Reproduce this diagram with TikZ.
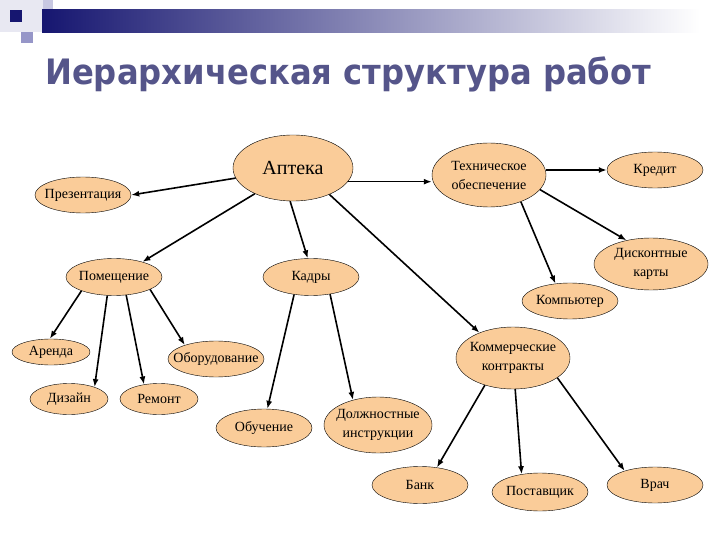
\documentclass[tikz,border=0pt]{standalone}
\usepackage{fontspec}
\setmainfont{Liberation Serif}
\newfontfamily\titlefont{DejaVu Sans}
\usepackage{tikz}
\usetikzlibrary{arrows.meta,shapes.geometric}
\definecolor{peach}{RGB}{250,204,153}
\definecolor{navyband}{RGB}{22,22,112}
\definecolor{titleblue}{RGB}{85,85,138}

\begin{document}
\begin{tikzpicture}[x=1pt, y=-1pt,
    leaf/.style={ellipse, draw, fill=peach, inner xsep=-12pt, inner ysep=0pt,
      align=center, font=\fontsize{14}{19}\selectfont},
    link/.style={line width=1.6pt, -{Latex[length=8pt,width=6pt]}}]
      \useasboundingbox (0,0) rectangle (720,540);
      % header decoration
      \fill[white] (0,0) rectangle (720,540);
      \fill[fill={rgb,255:red,232;green,232;blue,242}] (0,0) rectangle (43,32);
      \fill[fill={rgb,255:red,200;green,200;blue,226}] (43,0) rectangle (53,20);
      \fill[fill={rgb,255:red,150;green,150;blue,200}] (21,32) rectangle (33,43);
      \fill[navyband] (10,10) rectangle (22,22);
      \shade[left color=navyband, right color=white] (42,10) rectangle (700,33);
      \node[anchor=base west, text=titleblue, inner sep=0pt] (title) at (45,85)
        {\titlefont\bfseries\fontsize{35}{40}\selectfont
         \scalebox{0.92}[1]{Иерархическая структура работ}};
      % level 1
      \node[leaf, minimum width=120, minimum height=66, font=\fontsize{20}{22}\selectfont]
        (apt) at (293,168) {Аптека};
      \node[leaf, minimum width=96, minimum height=36] (prez) at (83,195) {Презентация};
      \node[leaf, minimum width=96, minimum height=37] (pom) at (114,277) {Помещение};
      \node[leaf, minimum width=96, minimum height=37] (kadr) at (311,277) {Кадры};
      \node[leaf, minimum width=114, minimum height=64] (tech) at (489,175) {Техническое\\обеспечение};
      \node[leaf, minimum width=114, minimum height=62] (komm) at (513,358) {Коммерческие\\контракты};
      % level 2
      \node[leaf, minimum width=96, minimum height=36] (kred) at (655,170) {Кредит};
      \node[leaf, minimum width=114, minimum height=52] (disk) at (651,264) {Дисконтные\\карты};
      \node[leaf, minimum width=96, minimum height=36] (comp) at (570,301) {Компьютер};
      \node[leaf, minimum width=78, minimum height=26] (arenda) at (51,352) {Аренда};
      \node[leaf, minimum width=78, minimum height=31] (dizajn) at (69,399) {Дизайн};
      \node[leaf, minimum width=78, minimum height=31] (remont) at (159,399) {Ремонт};
      \node[leaf, minimum width=96, minimum height=36] (obor) at (216,359) {Оборудование};
      \node[leaf, minimum width=96, minimum height=38] (obuch) at (264,428) {Обучение};
      \node[leaf, minimum width=108, minimum height=56] (dolzh) at (378,425) {Должностные\\инструкции};
      \node[leaf, minimum width=96, minimum height=37] (bank) at (420,485) {Банк};
      \node[leaf, minimum width=96, minimum height=38] (post) at (540,492) {Поставщик};
      \node[leaf, minimum width=96, minimum height=36] (vrach) at (655,485) {Врач};
      % connectors
      \draw[link] (apt.-170) -- (prez.east);
      \draw[link] (apt.-146) -- (pom.28);
      \draw[link] (apt.-95) -- (kadr.100);
      \draw[link] (apt.-14) -- (tech.west|-apt.-14);
      \draw[link] (apt.-36) -- (komm.143);
      \draw[link, line width=2.2pt] (tech.east|-kred) -- (kred);
      \draw[link] (tech.-16) -- (disk.136);
      \draw[link] (tech.-40) -- (comp.130);
      \draw[link] (pom.-157) -- (arenda.95);
      \draw[link] (pom.-110) -- (dizajn.25);
      \draw[link] (pom.-56) -- (remont.136);
      \draw[link] (pom.-19) -- (obor.156);
      \draw[link] (kadr.-134) -- (obuch.80);
      \draw[link] (kadr.-42) -- (dolzh.135);
      \draw[link] (komm.-136) -- (bank.46);
      \draw[link] (komm.-86) -- (post.136);
      \draw[link] (komm.-24) -- (vrach.155);
    \end{tikzpicture}
\end{document}
